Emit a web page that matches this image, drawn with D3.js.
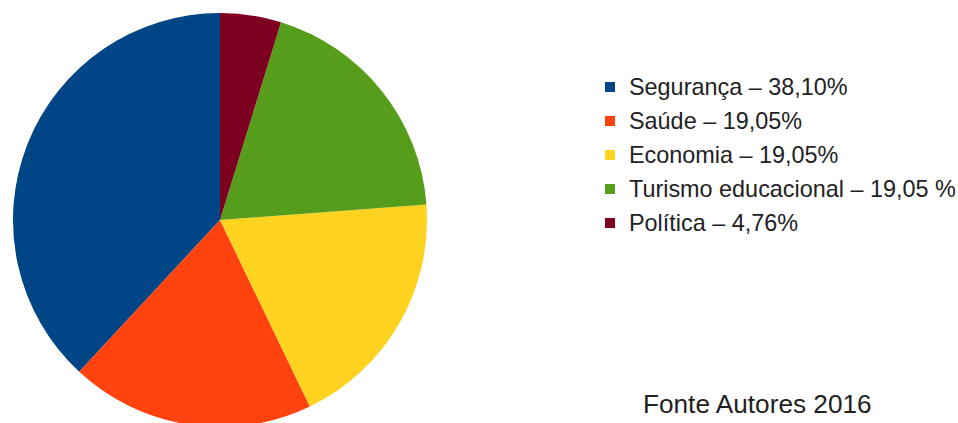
<!DOCTYPE html>
<html>
<head>
<meta charset="utf-8">
<script src="https://cdn.jsdelivr.net/npm/d3@7"></script>
<style>
  body { margin: 0; background: #fff; }
  svg { display: block; font-family: "Liberation Sans", Arial, sans-serif; }
</style>
</head>
<body>
<div id="chart"></div>
<script>
const w = 958;
const h = 423;

// data
const categories = ["Segurança", "Saúde", "Economia", "Turismo educacional", "Política"];
const values = [38.10, 19.05, 19.05, 19.05, 4.76];
const legendLabels = ["Segurança – 38,10%", "Saúde – 19,05%", "Economia – 19,05%", "Turismo educacional – 19,05 %", "Política – 4,76%"];
const colors = ["#004586", "#ff420e", "#ffd320", "#579d1c", "#7e0021"];
const source = "Fonte Autores 2016";

const cx = 220, cy = 220, radius = 207;

let svg = d3.select("#chart").append("svg")
    .attr("width", w)
    .attr("height", h);

let color = d3.scaleOrdinal()
    .domain(categories)
    .range(colors);

let data = categories.map((c, i) => ({ name: c, value: values[i], label: legendLabels[i] }));

// counter-clockwise from 12 o'clock, like LibreOffice
let pie = d3.pie()
    .sort(null)
    .value(d => d.value)
    .startAngle(0)
    .endAngle(-2 * Math.PI);

let arc = d3.arc()
    .innerRadius(0)
    .outerRadius(radius);

svg.append("g")
    .attr("transform", "translate(" + cx + "," + cy + ")")
    .selectAll("path")
    .data(pie(data))
    .join("path")
    .attr("d", arc)
    .attr("fill", d => color(d.data.name));

let legendY = d3.scalePoint()
    .domain(categories)
    .range([87, 223]);

let legend = svg.append("g")
    .selectAll("g")
    .data(data)
    .join("g")
    .attr("transform", d => "translate(605," + legendY(d.name) + ")");

legend.append("rect")
    .attr("x", 0)
    .attr("y", -5)
    .attr("width", 10)
    .attr("height", 10)
    .attr("fill", d => color(d.name));

legend.append("text")
    .attr("x", 24)
    .attr("y", 0)
    .attr("dominant-baseline", "central")
    .attr("font-size", 23.4)
    .attr("fill", "#222")
    .text(d => d.label);

svg.append("text")
    .attr("x", 643)
    .attr("y", 404)
    .attr("dominant-baseline", "central")
    .attr("font-size", 26.2)
    .attr("fill", "#222")
    .text(source);
</script>
</body>
</html>
